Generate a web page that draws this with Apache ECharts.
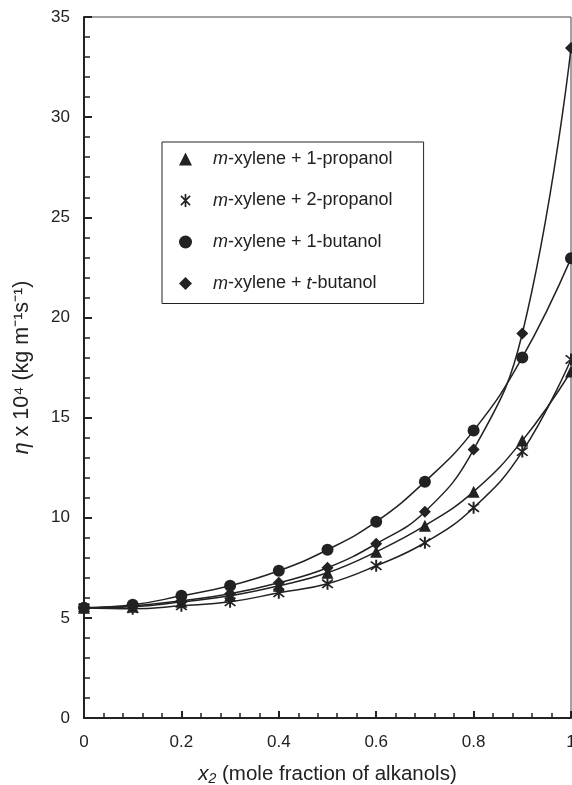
<!DOCTYPE html>
<html>
<head>
<meta charset="utf-8">
<script src="https://cdn.jsdelivr.net/npm/echarts@6/dist/echarts.min.js"></script>
<style>
html,body{margin:0;padding:0;background:#fff;overflow:hidden;}
#c{width:572px;height:785px;}
</style>
</head>
<body>
<div id="c"></div>
<script>
var xValues = [0, 0.1, 0.2, 0.3, 0.4, 0.5, 0.6, 0.7, 0.8, 0.9, 1.0];
var propanol1 = [5.5, 5.55, 5.8, 6.1, 6.6, 7.25, 8.3, 9.6, 11.3, 13.85, 17.3];
var propanol2 = [5.5, 5.45, 5.6, 5.8, 6.25, 6.7, 7.6, 8.75, 10.5, 13.3, 17.9];
var butanol1 = [5.5, 5.65, 6.1, 6.6, 7.35, 8.4, 9.8, 11.8, 14.35, 18.0, 22.95];
var tbutanol = [5.5, 5.6, 5.85, 6.2, 6.75, 7.5, 8.7, 10.3, 13.4, 19.2, 33.45];
var seriesNames = ['m-xylene + 1-propanol', 'm-xylene + 2-propanol', 'm-xylene + 1-butanol', 'm-xylene + t-butanol'];

var starPath = 'path://M-1.3,-10L1.3,-10L1.3,10L-1.3,10Z' +
  'M-6.1,-7.9L7.9,6.1L6.1,7.9L-7.9,-6.1Z' +
  'M-6.1,7.9L-7.9,6.1L6.1,-7.9L7.9,-6.1Z';

function pairs(ys) { return xValues.map(function (x, i) { return [x, ys[i]]; }); }

var INK = '#222';
var FONT = 'Liberation Sans, Arial, sans-serif';

function mkSeries(name, data, symbol, size) {
  return {
    name: name, type: 'line', data: pairs(data), smooth: 0.45,
    symbol: symbol, symbolSize: size, showSymbol: true,
    lineStyle: { color: INK, width: 1.5 },
    itemStyle: { color: INK, borderWidth: 0 },
    z: 3
  };
}

var chart = echarts.init(document.getElementById('c'), null, { renderer: 'canvas' });
chart.setOption({
  animation: false,
  backgroundColor: '#fff',
  grid: { left: 84, right: 1, top: 17, bottom: 67, outerBoundsMode: 'none', containLabel: false,
    show: true, borderColor: '#444', borderWidth: 1, backgroundColor: 'transparent' },
  legend: {
    left: 162, top: 142, orient: 'vertical',
    borderColor: INK, borderWidth: 1, backgroundColor: '#fff',
    padding: [8, 31, 11, 17],
    itemWidth: 13, itemHeight: 13, itemGap: 23.5,
    data: [
      { name: seriesNames[0], icon: 'triangle' },
      { name: seriesNames[1], icon: starPath },
      { name: seriesNames[2], icon: 'circle' },
      { name: seriesNames[3], icon: 'diamond' }
    ],
    formatter: function (n) {
      var rest = n.substring(1);
      if (rest.indexOf('t-butanol') >= 0) {
        return '{i|m}{n|' + rest.replace('t-butanol', '') + '}{i|t}{n|-butanol}';
      }
      return '{i|m}{n|' + rest + '}';
    },
    textStyle: {
      fontFamily: FONT, fontSize: 18, color: INK, lineHeight: 18, padding: [0, 0, 0, 16],
      rich: {
        i: { fontFamily: FONT, fontSize: 18, fontStyle: 'italic', color: INK, lineHeight: 18 },
        n: { fontFamily: FONT, fontSize: 18, color: INK, lineHeight: 18 }
      }
    }
  },
  xAxis: {
    type: 'value', min: 0, max: 1, interval: 0.2,
    name: '{i|x₂}{n| (mole fraction of alkanols)}',
    nameLocation: 'middle', nameGap: 46,
    nameTextStyle: {
      verticalAlign: 'top',
      rich: {
        i: { fontFamily: FONT, fontSize: 20.5, fontStyle: 'italic', color: INK },
        n: { fontFamily: FONT, fontSize: 20.5, color: INK }
      }
    },
    axisLine: { show: true, lineStyle: { color: INK, width: 2 } },
    axisTick: { show: true, inside: true, length: 7, lineStyle: { color: INK, width: 2 } },
    minorTick: { show: true, splitNumber: 5, length: 5, lineStyle: { color: INK, width: 1.5 } },
    axisLabel: { fontFamily: FONT, fontSize: 17, color: INK, margin: 16, showMaxLabel: true, hideOverlap: false,
      formatter: function (v) { return v === 0 ? '0' : (v === 1 ? '1' : String(+v.toFixed(1))); } },
    splitLine: { show: false }
  },
  yAxis: {
    type: 'value', min: 0, max: 35, interval: 5,
    name: '{i|η}{n| x 10⁴ (kg m⁻¹s⁻¹)}',
    nameLocation: 'middle', nameGap: 51, nameRotate: 90,
    nameTextStyle: {
      rich: {
        i: { fontFamily: FONT, fontSize: 21.5, fontStyle: 'italic', color: INK },
        n: { fontFamily: FONT, fontSize: 21.5, color: INK }
      }
    },
    axisLine: { show: true, lineStyle: { color: INK, width: 2 } },
    axisTick: { show: true, inside: true, length: 8, lineStyle: { color: INK, width: 2 } },
    minorTick: { show: true, splitNumber: 5, length: 6, lineStyle: { color: INK, width: 1.5 } },
    axisLabel: { fontFamily: FONT, fontSize: 17, color: INK, margin: 14 },
    splitLine: { show: false }
  },
  series: [
    mkSeries(seriesNames[0], propanol1, 'triangle', 12),
    mkSeries(seriesNames[1], propanol2, starPath, 12),
    mkSeries(seriesNames[2], butanol1, 'circle', 12),
    mkSeries(seriesNames[3], tbutanol, 'diamond', 12)
  ]
});
</script>
</body>
</html>
